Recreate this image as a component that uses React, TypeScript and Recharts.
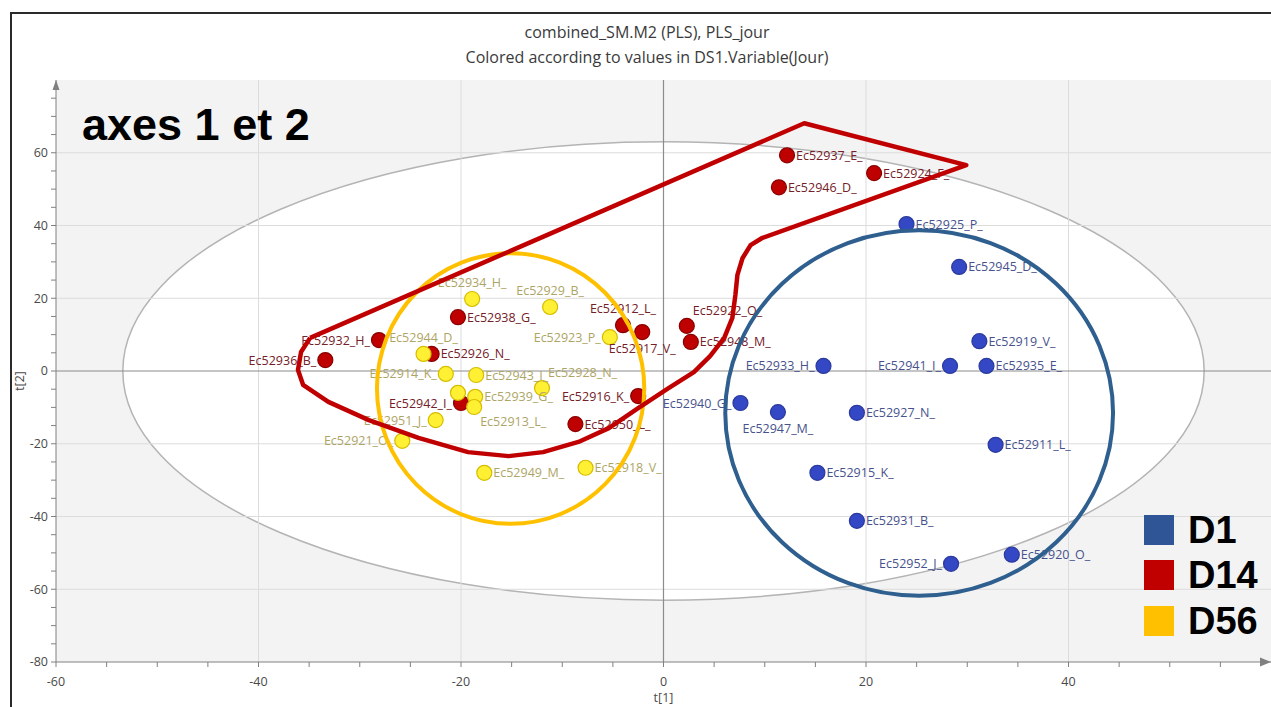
import React from 'react';
import {
  ScatterChart,
  Scatter,
  XAxis,
  YAxis,
  CartesianGrid,
  ReferenceArea,
  ReferenceLine,
  ReferenceDot,
  LabelList,
} from 'recharts';

// D1 (day 1) scores
const d1Names = ['Ec52925_P_', 'Ec52945_D_', 'Ec52919_V_', 'Ec52933_H_', 'Ec52941_I_', 'Ec52935_E_', 'Ec52940_G_', 'Ec52947_M_', 'Ec52927_N_', 'Ec52911_L_', 'Ec52915_K_', 'Ec52931_B_', 'Ec52952_J_', 'Ec52920_O_'];
const d1T1 = [24.0, 29.2, 31.2, 15.8, 28.3, 31.9, 7.6, 11.3, 19.1, 32.8, 15.2, 19.1, 28.4, 34.4];
const d1T2 = [40.4, 28.6, 8.2, 1.4, 1.4, 1.4, -8.8, -11.3, -11.5, -20.3, -28.0, -41.2, -53.0, -50.5];

// D14 scores
const d14Names = ['Ec52937_E_', 'Ec52924_F_', 'Ec52946_D_', 'Ec52922_O_', 'Ec52948_M_', 'Ec52912_L_', 'Ec52917_V_', 'Ec52938_G_', 'Ec52932_H_', 'Ec52936_B_', 'Ec52926_N_', 'Ec52942_I_', 'Ec52916_K_', 'Ec52950_L_'];
const d14T1 = [12.2, 20.8, 11.4, 2.3, 2.7, -4.0, -2.1, -20.3, -28.1, -33.4, -22.9, -20.0, -2.5, -8.7];
const d14T2 = [59.3, 54.4, 50.5, 12.4, 8.0, 12.6, 10.7, 14.8, 8.5, 3.0, 4.7, -8.8, -6.9, -14.6];

// D56 scores
const d56Names = ['Ec52934_H_', 'Ec52929_B_', 'Ec52923_P_', 'Ec52944_D_', 'Ec52914_K_', 'Ec52943_I_', 'Ec52928_N_', '', 'Ec52939_G_', 'Ec52913_L_', 'Ec52951_J_', 'Ec52921_O_', 'Ec52949_M_', 'Ec52918_V_'];
const d56T1 = [-18.9, -11.2, -5.3, -23.7, -21.5, -18.5, -12.0, -20.3, -18.6, -18.7, -22.5, -25.8, -17.7, -7.7];
const d56T2 = [19.8, 17.6, 9.3, 4.7, -0.8, -1.1, -4.7, -6.0, -7.1, -9.9, -13.5, -19.2, -28.0, -26.6];

// hand drawn red outline around the D14 group (t[1], t[2])
const redT1 = [-34.9, 13.9, 29.9, 9.7, 8.6, 7.8, 7.3, 7.1, 6.8, 6.0, 4.6, 3.0, 0.5, -2.5, -5.4, -8.4, -11.9, -15.3, -19.3, -24.2, -29.1, -33.1, -35.6, -36.1, -35.8, -34.9];
const redT2 = [9.1, 68.1, 56.6, 36.5, 34.6, 31.0, 26.4, 20.9, 14.6, 9.1, 4.1, -0.3, -4.7, -10.2, -15.7, -19.5, -22.3, -23.4, -22.3, -18.4, -13.5, -8.5, -3.8, 0.3, 5.2, 9.1];

const xTicks = [-60, -55, -50, -45, -40, -35, -30, -25, -20, -15, -10, -5, 0, 5, 10, 15, 20, 25, 30, 35, 40, 45, 50, 55];
const yTicks = [-80, -75, -70, -65, -60, -55, -50, -45, -40, -35, -30, -25, -20, -15, -10, -5, 0, 5, 10, 15, 20, 25, 30, 35, 40, 45, 50, 55, 60, 65, 70, 75];
const gridX = [-40, -20, 20, 40];
const gridY = [-60, -40, -20, 20, 40, 60];

const legendNames = ['D1', 'D14', 'D56'];
const legendColors = ['#2f5597', '#c00000', '#ffc000'];

// where each point label sits relative to its dot (default right)
const labelSide: Record<string, string> = {
  Ec52933_H_: 'l', Ec52941_I_: 'l', Ec52940_G_: 'l', Ec52947_M_: 'b', Ec52952_J_: 'l',
  Ec52922_O_: 'tr', Ec52912_L_: 't', Ec52917_V_: 'b', Ec52932_H_: 'l', Ec52936_B_: 'l',
  Ec52942_I_: 'l', Ec52916_K_: 'l',
  Ec52934_H_: 't', Ec52929_B_: 't', Ec52923_P_: 'l', Ec52944_D_: 't', Ec52914_K_: 'l',
  Ec52928_N_: 'tr', Ec52913_L_: 'br', Ec52951_J_: 'l', Ec52921_O_: 'l',
};

const toPoints = (names: string[], t1: number[], t2: number[]) =>
  t1.map((v, i) => ({ name: names[i], x: v, y: t2[i] }));

const d1Data = toPoints(d1Names, d1T1, d1T2);
const d14Data = toPoints(d14Names, d14T1, d14T2);
const d56Data = toPoints(d56Names, d56T1, d56T2);
const redData = redT1.map((v, i) => ({ x: v, y: redT2[i] }));

const dot = (fill: string, edge: string) => (p: any) => (
  <circle cx={p.cx} cy={p.cy} r={7.5} fill={fill} stroke={edge} strokeWidth={1.2} />
);

const pointLabel = (color: string) => (p: any) => {
  if (!p.value) return null;
  const vb = p.viewBox || p;
  const cx = vb.x + vb.width / 2;
  const cy = vb.y + vb.height / 2;
  const side = labelSide[p.value] || 'r';
  let x = cx + 9;
  let y = cy + 4.5;
  let anchor = 'start';
  if (side === 'l') { x = cx - 9; anchor = 'end'; }
  if (side === 't') { x = cx; y = cy - 12; anchor = 'middle'; }
  if (side === 'b') { x = cx; y = cy + 21; anchor = 'middle'; }
  if (side === 'tr') { x = cx + 6; y = cy - 11; }
  if (side === 'br') { x = cx + 6; y = cy + 19; }
  return (
    <text x={x} y={y} textAnchor={anchor} fontSize={12.5} fill={color}>
      {p.value}
    </text>
  );
};

const ellipseShape = (fill: string, stroke: string, width: number) => (p: any) => (
  <ellipse
    cx={p.x + p.width / 2}
    cy={p.y + p.height / 2}
    rx={Math.abs(p.width) / 2}
    ry={Math.abs(p.height) / 2}
    fill={fill}
    stroke={stroke}
    strokeWidth={width}
  />
);

const fmtX = (v: number) => (v % 20 === 0 ? String(v) : '');
const fmtY = (v: number) => (v % 20 === 0 && v !== 80 ? String(v) : '');

export default function App() {
  return (
    <div
      style={{
        position: 'fixed',
        left: 0,
        top: 0,
        width: 1271,
        height: 707,
        background: '#fff',
        overflow: 'hidden',
        fontFamily: '"Open Sans", "Noto Sans", sans-serif',
      }}
    >
      <div
        style={{
          position: 'absolute',
          left: 10,
          top: 12,
          right: -4,
          bottom: -4,
          borderLeft: '2px solid #2a2a2a',
          borderTop: '2px solid #2a2a2a',
        }}
      />
      <div style={{ position: 'absolute', left: 10, width: 1274, top: 22, textAlign: 'center', fontSize: 16, lineHeight: '20px', color: '#3a3a3a' }}>
        combined_SM.M2 (PLS), PLS_jour
      </div>
      <div style={{ position: 'absolute', left: 10, width: 1274, top: 47, textAlign: 'center', fontSize: 16, lineHeight: '20px', color: '#3a3a3a' }}>
        Colored according to values in DS1.Variable(Jour)
      </div>

      <ScatterChart
        width={1271}
        height={707}
        margin={{ top: 80, right: 0, bottom: 0, left: 0 }}
        style={{ position: 'absolute', left: 0, top: 0 }}
      >
        <XAxis
          type="number"
          dataKey="x"
          domain={[-60, 60]}
          ticks={xTicks}
          interval={0}
          tickFormatter={fmtX}
          height={45}
          stroke="#808080"
          tick={{ fill: '#4a4a4a', fontSize: 12.5 }}
          tickSize={5}
          tickMargin={10}
          allowDataOverflow
          label={{ value: 't[1]', position: 'insideBottom', offset: 5, fill: '#4a4a4a', fontSize: 12.5 }}
        />
        <YAxis
          type="number"
          dataKey="y"
          domain={[-80, 80]}
          ticks={yTicks}
          interval={0}
          tickFormatter={fmtY}
          width={56}
          stroke="#808080"
          tick={{ fill: '#4a4a4a', fontSize: 12.5 }}
          tickSize={5}
          tickMargin={3}
          allowDataOverflow
          label={{
            content: (p: any) => {
              const vb = p.viewBox || { x: 0, y: 80, width: 56, height: 582 };
              const lx = vb.x + 24;
              const ly = vb.y + vb.height / 2 + 10;
              return (
                <text x={lx} y={ly} transform={`rotate(-90 ${lx} ${ly})`} textAnchor="middle" fontSize={12.5} fill="#4a4a4a">
                  t[2]
                </text>
              );
            },
          }}
        />

        <ReferenceArea x1={-60} x2={60} y1={-80} y2={80} zIndex={-300} shape={(p: any) => (
          <rect x={p.x} y={p.y} width={p.width} height={p.height} fill="#f3f3f3" />
        )} />
        <ReferenceArea x1={-53.4} x2={53.4} y1={-63} y2={63} zIndex={-200} shape={ellipseShape('#ffffff', '#b4b4b4', 1.5)} />
        <CartesianGrid stroke="#dcdcdc" horizontalValues={gridY} verticalValues={gridX} />
        <ReferenceLine x={0} stroke="#8c8c8c" strokeWidth={1.2} zIndex={-50} />
        <ReferenceLine y={0} stroke="#8c8c8c" strokeWidth={1.2} zIndex={-50} />

        <Scatter name="D1" data={d1Data} shape={dot('#3447c4', '#2b3a9e')} isAnimationActive={false}>
          <LabelList dataKey="name" content={pointLabel('#47528c')} />
        </Scatter>
        <Scatter name="D14" data={d14Data} shape={dot('#bf0000', '#8a0000')} isAnimationActive={false}>
          <LabelList dataKey="name" content={pointLabel('#742028')} />
        </Scatter>
        <Scatter name="D56" data={d56Data} shape={dot('#fff033', '#d6bd00')} isAnimationActive={false}>
          <LabelList dataKey="name" content={pointLabel('#ada566')} />
        </Scatter>

        <ReferenceArea x1={-28.3} x2={-1.9} y1={-42} y2={32.4} zIndex={2100} shape={ellipseShape('none', '#ffc000', 4)} />
        <ReferenceArea x1={6.1} x2={44.4} y1={-61.8} y2={38.7} zIndex={2100} shape={ellipseShape('none', '#2e5f8f', 4)} />
        <Scatter
          data={redData}
          line={{ stroke: '#c00000', strokeWidth: 4.5, strokeLinejoin: 'round' }}
          lineJointType="linear"
          shape={() => <g />}
          legendType="none"
          zIndex={2100}
          isAnimationActive={false}
        />

        <ReferenceDot x={60} y={-80} ifOverflow="visible" zIndex={2200} shape={(p: any) => (
          <path d={`M${p.cx - 11},${p.cy - 4.5} L${p.cx},${p.cy} L${p.cx - 11},${p.cy + 4.5} Z`} fill="#808080" />
        )} />
        <ReferenceDot x={-60} y={80} ifOverflow="visible" zIndex={2200} shape={(p: any) => (
          <path d={`M${p.cx - 3.5},${p.cy + 10} L${p.cx},${p.cy} L${p.cx + 3.5},${p.cy + 10} Z`} fill="#808080" />
        )} />
      </ScatterChart>

      <div
        style={{
          position: 'absolute',
          left: 82,
          top: 102,
          fontFamily: '"Liberation Sans", Arial, sans-serif',
          fontWeight: 700,
          fontSize: 45,
          lineHeight: 1,
          color: '#000',
        }}
      >
        axes 1 et 2
      </div>

      <div style={{ position: 'absolute', left: 1144, top: 507 }}>
        {legendNames.map((n, i) => (
          <div key={n} style={{ display: 'flex', alignItems: 'center', height: 45.5 }}>
            <span style={{ display: 'inline-block', width: 30, height: 30, background: legendColors[i] }} />
            <span
              style={{
                marginLeft: 14,
                fontFamily: '"Liberation Sans", Arial, sans-serif',
                fontWeight: 700,
                fontSize: 38,
                lineHeight: '38px',
                color: '#000',
              }}
            >
              {n}
            </span>
          </div>
        ))}
      </div>
    </div>
  );
}
